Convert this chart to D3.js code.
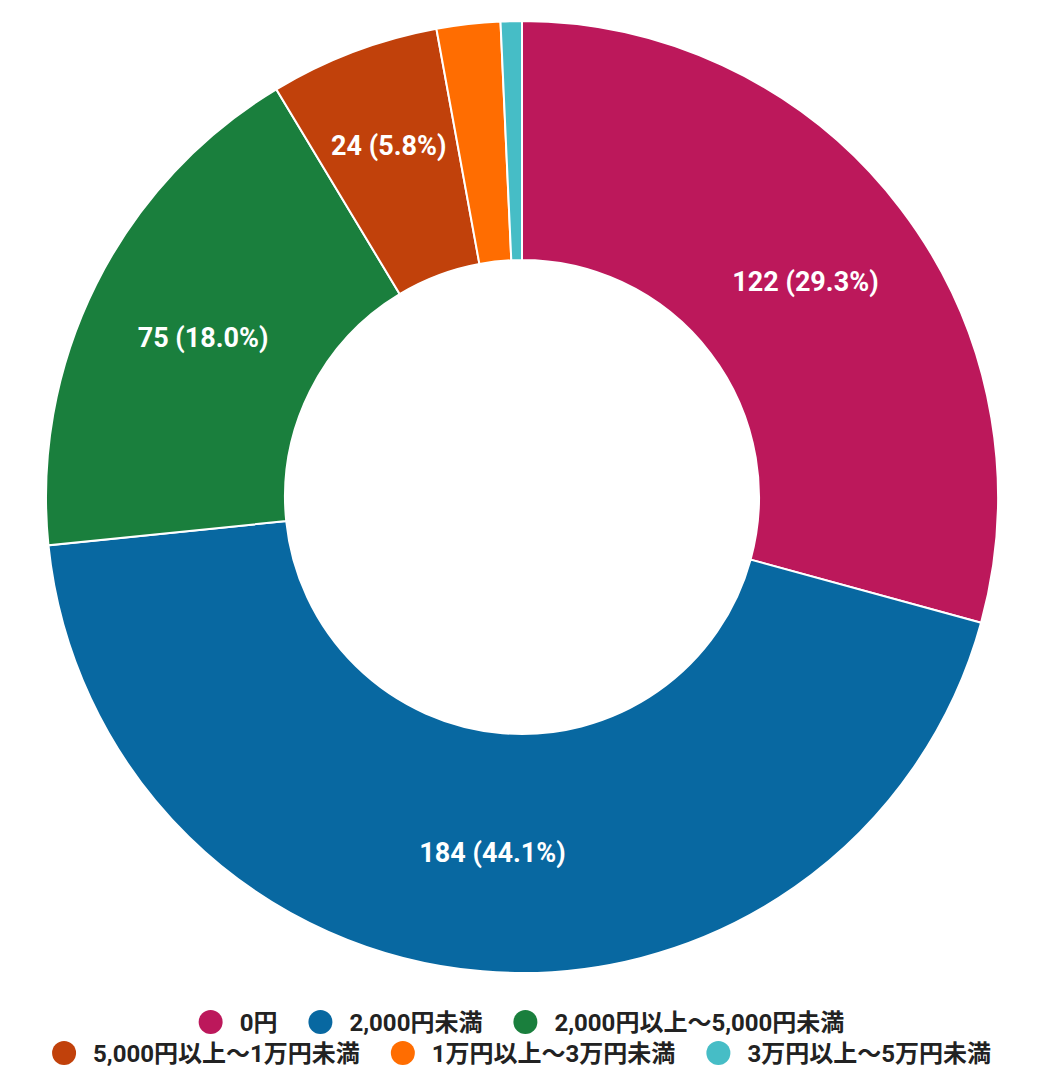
<!DOCTYPE html>
<html>
<head>
<meta charset="utf-8">
<script src="https://cdn.jsdelivr.net/npm/d3@7"></script>
<style>
  body { margin: 0; background: #fff; }
  svg text { font-family: Roboto, "Noto Sans CJK JP", sans-serif; font-weight: bold; }
</style>
</head>
<body>
<svg id="chart" width="1040" height="1084"></svg>
<script>
var categories = ['0円', '2,000円未満', '2,000円以上〜5,000円未満', '5,000円以上〜1万円未満', '1万円以上〜3万円未満', '3万円以上〜5万円未満'];
var counts = [122, 184, 75, 24, 9, 3];
var colors = ['#bc185b', '#0868a1', '#1a7f3d', '#c1410b', '#ff6d01', '#46bdc6'];

var svg = d3.select('#chart');
var cx = 522, cy = 497;
var outerR = 476, innerR = 237;

var total = d3.sum(counts);
var data = categories.map(function (c, i) {
  return { name: c, value: counts[i], color: colors[i] };
});

var pie = d3.pie().sort(null).value(function (d) { return d.value; });
var arc = d3.arc().innerRadius(innerR).outerRadius(outerR);

var g = svg.append('g').attr('transform', 'translate(' + cx + ',' + cy + ')');
var arcs = pie(data);

g.selectAll('path')
  .data(arcs)
  .enter().append('path')
  .attr('d', arc)
  .attr('fill', function (d) { return d.data.color; })
  .attr('stroke', '#fff')
  .attr('stroke-width', 2);

// does a w x h box centred at (x,y) sit inside the wedge, at least pad px from its sides?
function fits(d, x, y, w, h, pad) {
  var corners = [[x - w / 2, y - h / 2], [x + w / 2, y - h / 2], [x - w / 2, y + h / 2], [x + w / 2, y + h / 2]];
  return corners.every(function (p) {
    var r = Math.sqrt(p[0] * p[0] + p[1] * p[1]);
    var a = Math.atan2(p[0], -p[1]);
    if (a < 0) a += 2 * Math.PI;
    var d0 = a - d.startAngle, d1 = d.endAngle - a;
    if (d0 <= 0 || d1 <= 0) return false;
    return r * Math.sin(Math.min(d0, Math.PI / 2)) >= pad &&
           r * Math.sin(Math.min(d1, Math.PI / 2)) >= pad;
  });
}

var labelSize = 27;
g.selectAll('text.lbl')
  .data(arcs.filter(function (d) { return d.endAngle - d.startAngle > 0.3; }))
  .enter().append('text')
  .attr('class', 'lbl')
  .attr('text-anchor', 'middle')
  .attr('dy', '0.36em')
  .attr('fill', '#fff')
  .style('font-size', labelSize + 'px')
  .text(function (d) {
    return d.data.value + ' (' + (d.data.value / total * 100).toFixed(1) + '%)';
  })
  .attr('transform', function (d) {
    var w = this.getComputedTextLength(), h = labelSize * 1.15;
    var mid = (d.startAngle + d.endAngle) / 2;
    var r = (innerR + outerR) / 2;
    while (r < outerR - h && !fits(d, r * Math.sin(mid), -r * Math.cos(mid), w, h, 8)) r += 1;
    return 'translate(' + (r * Math.sin(mid)) + ',' + (-r * Math.cos(mid)) + ')';
  });

// legend, wrapped into centred rows
var legend = svg.append('g');
var maxRowWidth = 960, rowH = 31, firstRowY = 1022, gap = 32;
var items = data.map(function (d) {
  var it = legend.append('g');
  it.append('circle').attr('r', 12).attr('cx', 11).attr('fill', d.color);
  var t = it.append('text').attr('x', 40).attr('dy', '0.36em')
    .attr('fill', '#222').style('font-size', '24px').text(d.name);
  return { g: it, w: 40 + t.node().getComputedTextLength() };
});
var rows = [[]], rowW = [0];
items.forEach(function (it) {
  var r = rows.length - 1;
  var need = rows[r].length ? rowW[r] + gap + it.w : it.w;
  if (need > maxRowWidth && rows[r].length) {
    rows.push([it]); rowW.push(it.w);
  } else {
    rows[r].push(it); rowW[r] = need;
  }
});
rows.forEach(function (row, ri) {
  var x = cx - rowW[ri] / 2;
  row.forEach(function (it) {
    it.g.attr('transform', 'translate(' + x + ',' + (firstRowY + ri * rowH) + ')');
    x += it.w + gap;
  });
});
</script>
</body>
</html>
